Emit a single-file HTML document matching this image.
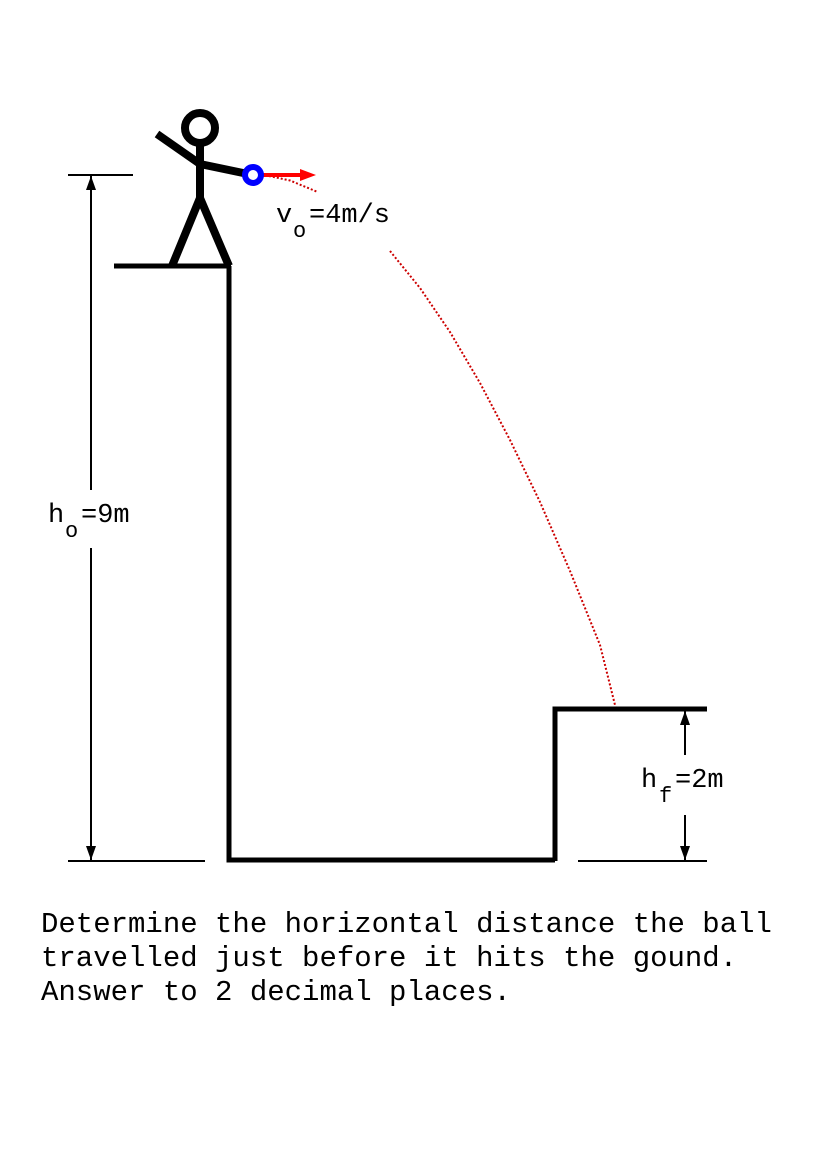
<!DOCTYPE html>
<html><head><style>
html,body{margin:0;padding:0;background:#fff;}
svg{display:block;}
text{font-family:"Liberation Mono",monospace;fill:#000;}
</style></head><body>
<svg width="822" height="1155" viewBox="0 0 822 1155" xmlns="http://www.w3.org/2000/svg">
<defs>
<marker id="ah" markerWidth="14" markerHeight="10" refX="14" refY="5" orient="auto" markerUnits="userSpaceOnUse">
<path d="M0,0 L14,5 L0,10 Z" fill="#000"/>
</marker>
</defs>
<!-- trajectory -->
<path d="M253,175 L270,176.2 L290,180.5 L318,192.1" fill="none" stroke="#c00" stroke-width="2" stroke-dasharray="2,2"/>
<path d="M390,251 L420,288 L450,332 L480,383 L510,440 L540,502 L570,571 L600,645 L616,709" fill="none" stroke="#c00" stroke-width="2" stroke-dasharray="2,2"/>
<!-- stick figure -->
<circle cx="200" cy="128" r="15" fill="none" stroke="#000" stroke-width="8"/>
<g stroke="#000" stroke-width="8" fill="none" stroke-linecap="butt">
<line x1="200" y1="143" x2="200" y2="198"/>
<line x1="157" y1="134" x2="200" y2="164"/>
<line x1="200" y1="164" x2="248" y2="174"/>
<polyline points="172,266 200,198 229,266"/>
</g>
<!-- cliff -->
<g stroke="#000" stroke-width="5" fill="none">
<line x1="114" y1="266" x2="231" y2="266"/>
<polyline points="229,266 229,860 555,860"/>
<polyline points="555,861 555,709 707,709"/>
</g>
<!-- ball and arrow -->
<line x1="253" y1="175" x2="303" y2="175" stroke="#f00" stroke-width="4"/>
<path d="M300,169 L316,175 L300,181 Z" fill="#f00"/>
<circle cx="253" cy="175" r="8" fill="#fff" stroke="#00f" stroke-width="6"/>
<!-- dimensions -->
<g stroke="#000" stroke-width="2">
<line x1="68" y1="175" x2="133" y2="175"/>
<line x1="68" y1="861" x2="205" y2="861"/>
<line x1="91" y1="490" x2="91" y2="176" marker-end="url(#ah)"/>
<line x1="91" y1="548" x2="91" y2="860" marker-end="url(#ah)"/>
<line x1="578" y1="861" x2="707" y2="861"/>
<line x1="685" y1="755" x2="685" y2="711" marker-end="url(#ah)"/>
<line x1="685" y1="815" x2="685" y2="860" marker-end="url(#ah)"/>
</g>
<!-- labels -->
<text x="48" y="522" font-size="27">h</text>
<text x="65" y="537" font-size="22">o</text>
<text x="81" y="522" font-size="27">=9m</text>
<text x="276" y="222" font-size="27">v</text>
<text x="293" y="237" font-size="22">o</text>
<text x="309" y="222" font-size="27">=4m/s</text>
<text x="641" y="787" font-size="27">h</text>
<text x="659" y="802" font-size="22">f</text>
<text x="675" y="787" font-size="27">=2m</text>
<text x="41" y="932" font-size="29">Determine the horizontal distance the ball</text>
<text x="41" y="966" font-size="29">travelled just before it hits the gound.</text>
<text x="41" y="1000" font-size="29">Answer to 2 decimal places.</text>
</svg>
</body></html>
